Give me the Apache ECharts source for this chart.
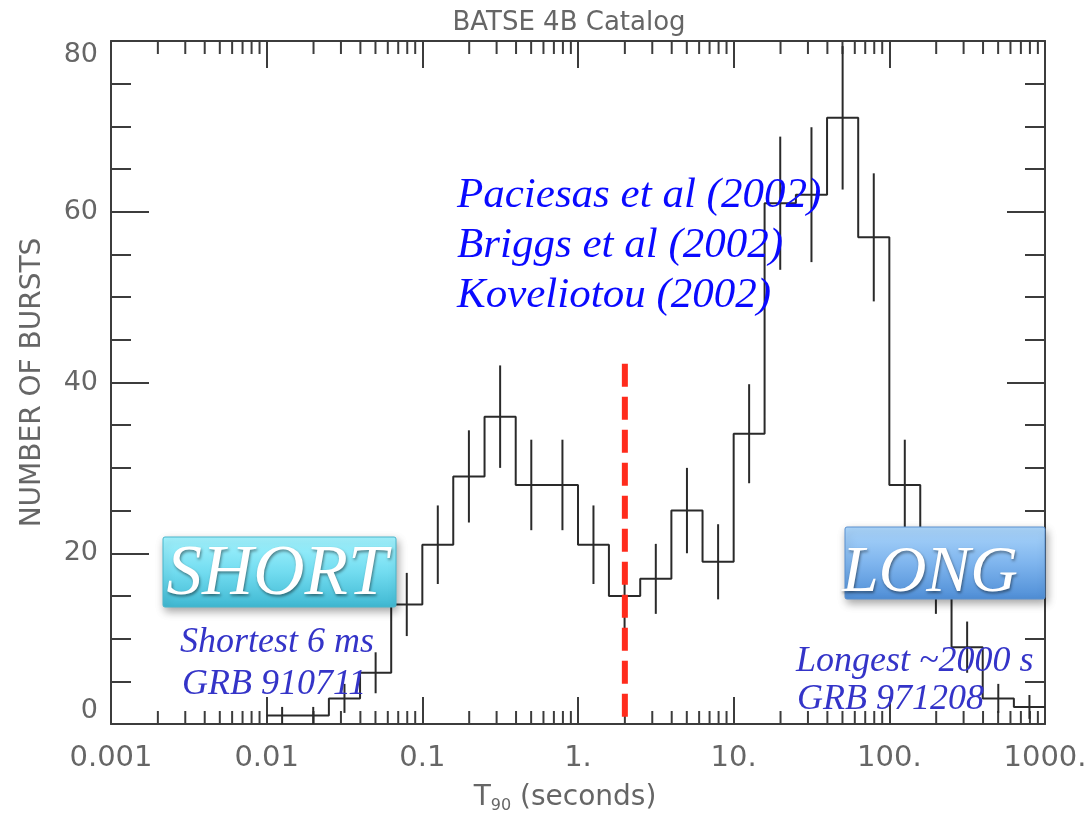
<!DOCTYPE html>
<html>
<head>
<meta charset="utf-8">
<script src="https://cdn.jsdelivr.net/npm/echarts@6/dist/echarts.min.js"></script>
<style>
html,body{margin:0;padding:0;background:#fff;}
#chart{width:1088px;height:814px;}
</style>
</head>
<body>
<div id="chart"></div>
<script>
// ---- data ----
const binEdges = [0.01, 0.0158, 0.0251, 0.0398, 0.0631, 0.1, 0.158, 0.251, 0.398, 0.631,
                  1, 1.58, 2.51, 3.98, 6.31, 10, 15.8, 25.1, 39.8, 63.1,
                  100, 158, 251, 398, 631, 1000];
const burstCounts = [1, 1, 3, 6, 14, 21, 29, 36, 28, 28, 21, 15, 17, 25, 19, 34, 61, 62, 71, 57, 28, 17, 9, 3, 2];
const countErrors = [1.0, 1.0, 1.7, 2.4, 3.7, 4.6, 5.4, 6.0, 5.3, 5.3, 4.6, 3.9, 4.1, 5.0, 4.4, 5.8, 7.8, 7.9, 8.4, 7.5, 5.3, 4.1, 3.0, 1.7, 1.4];
const xTickLabels = ['0.001', '0.01', '0.1', '1.', '10.', '100.', '1000.'];
const yTickLabels = ['0', '20', '40', '60', '80'];
const dividerT90 = 2;        // seconds
const dividerTop = 42.2;     // bursts
const minorMantissas = [2, 3, 4, 5, 6, 7, 8, 9];
const decades = [0.001, 0.01, 0.1, 1, 10, 100];

// ---- derived ----
const stepData = binEdges.slice(0, -1).map((e, i) => [e, burstCounts[i]]);
stepData.push([binEdges[binEdges.length - 1], burstCounts[burstCounts.length - 1]]);
const errData = burstCounts.map((v, i) => [Math.sqrt(binEdges[i] * binEdges[i + 1]), v, countErrors[i]]);
const minorTicks = [];
decades.forEach(d => minorMantissas.forEach(m => minorTicks.push([d * m])));

const axisColor = '#3c3c3c';
const labelColor = '#666';
const labelFont = '"DejaVu Sans", sans-serif';

function xLabel(v) {
  const k = Math.round(Math.log10(v)) + 3;
  return xTickLabels[k] !== undefined ? xTickLabels[k] : '';
}
function yLabel(v) {
  const k = Math.round(v / 20);
  return yTickLabels[k] !== undefined ? yTickLabels[k] : '';
}

const chart = echarts.init(document.getElementById('chart'), null, {renderer: 'canvas'});

const calli = '"Liberation Serif", "DejaVu Serif", serif';

const option = {
  animation: false,
  backgroundColor: '#fff',
  title: {
    text: 'BATSE 4B Catalog',
    left: 564, top: 5, textAlign: 'center',
    textStyle: {color: labelColor, fontFamily: labelFont, fontSize: 26, fontWeight: 'normal'}
  },
  grid: {left: 111, right: 43, top: 41, bottom: 90, containLabel: false, outerBoundsMode: 'none'},
  xAxis: [{
    type: 'log', logBase: 10, min: 0.001, max: 1000, splitNumber: 6,
    position: 'bottom',
    name: '{t|T}{s|90}{t| (seconds)}',
    nameLocation: 'middle', nameGap: 58,
    nameTextStyle: {
      padding: [0, 26, 0, 0],
      rich: {
        t: {fontSize: 28, color: labelColor, fontFamily: labelFont},
        s: {fontSize: 16, color: labelColor, fontFamily: labelFont, verticalAlign: 'bottom', padding: [16, 0, 0, 0]}
      }
    },
    axisLine: {show: true, onZero: false, lineStyle: {color: axisColor, width: 2}},
    axisTick: {show: true, inside: true, length: 27, lineStyle: {color: axisColor, width: 2}},
    minorTick: {show: false},
    splitLine: {show: false},
    axisLabel: {
      show: true, margin: 20, color: labelColor, fontFamily: labelFont, fontSize: 29,
      showMinLabel: true, showMaxLabel: true, formatter: xLabel
    }
  }, {
    type: 'log', logBase: 10, min: 0.001, max: 1000, splitNumber: 6,
    position: 'top',
    axisLine: {show: true, onZero: false, lineStyle: {color: axisColor, width: 2}},
    axisTick: {show: true, inside: true, length: 27, lineStyle: {color: axisColor, width: 2}},
    splitLine: {show: false},
    axisLabel: {show: false}
  }],
  yAxis: [{
    type: 'value', min: 0, max: 80, interval: 20, position: 'left',
    name: 'NUMBER OF BURSTS', nameLocation: 'middle', nameGap: 64,
    nameTextStyle: {color: labelColor, fontFamily: labelFont, fontSize: 28},
    axisLine: {show: true, onZero: false, lineStyle: {color: axisColor, width: 2}},
    axisTick: {show: true, inside: true, length: 38, lineStyle: {color: axisColor, width: 2}},
    minorTick: {show: true, splitNumber: 4, length: 20, lineStyle: {color: axisColor, width: 2}},
    splitLine: {show: false}, minorSplitLine: {show: false},
    axisLabel: {
      show: true, margin: 13, color: labelColor, fontFamily: labelFont, fontSize: 27,
      formatter: yLabel, verticalAlignMinLabel: 'bottom', verticalAlignMaxLabel: 'top'
    }
  }, {
    type: 'value', min: 0, max: 80, interval: 20, position: 'right',
    axisLine: {show: true, onZero: false, lineStyle: {color: axisColor, width: 2}},
    axisTick: {show: true, inside: true, length: 38, lineStyle: {color: axisColor, width: 2}},
    minorTick: {show: true, splitNumber: 4, length: 20, lineStyle: {color: axisColor, width: 2}},
    splitLine: {show: false}, minorSplitLine: {show: false},
    axisLabel: {show: false}
  }],
  series: [{
    name: 'minorTicks', type: 'custom', xAxisIndex: 0, yAxisIndex: 0,
    data: minorTicks, clip: false, silent: true, z: 3,
    renderItem: function (params, api) {
      const v = api.value(0);
      const b = api.coord([v, 0]);
      const t = api.coord([v, 80]);
      const s = {stroke: axisColor, lineWidth: 2};
      return {type: 'group', children: [
        {type: 'line', shape: {x1: b[0], y1: b[1], x2: b[0], y2: b[1] - 13}, style: s},
        {type: 'line', shape: {x1: t[0], y1: t[1], x2: t[0], y2: t[1] + 13}, style: s}
      ]};
    }
  }, {
    name: 'histogram', type: 'line', step: 'end', data: stepData,
    symbol: 'none', z: 4,
    lineStyle: {color: '#2a2a2a', width: 2}
  }, {
    name: 'errors', type: 'custom', data: errData, z: 4, silent: true,
    renderItem: function (params, api) {
      const x = api.value(0), v = api.value(1), e = api.value(2);
      const p1 = api.coord([x, v - e]);
      const p2 = api.coord([x, v + e]);
      return {type: 'line', shape: {x1: p1[0], y1: p1[1], x2: p2[0], y2: p2[1]},
              style: {stroke: '#2a2a2a', lineWidth: 2}};
    }
  }, {
    name: 'divider', type: 'line', data: [[dividerT90, dividerTop], [dividerT90, 0]],
    symbol: 'none', z: 6,
    lineStyle: {color: '#ff2b1c', width: 6, type: [23, 10]}
  }],
  graphic: [
    // references
    {type: 'text', z: 100, style: {text: 'Paciesas et al (2002)', x: 457, y: 196, font: 'italic 43px ' + calli, fill: '#0a0aff', verticalAlign: 'middle'}},
    {type: 'text', z: 100, style: {text: 'Briggs et al (2002)', x: 457, y: 246, font: 'italic 43px ' + calli, fill: '#0a0aff', verticalAlign: 'middle'}},
    {type: 'text', z: 100, style: {text: 'Koveliotou (2002)', x: 457, y: 296, font: 'italic 43px ' + calli, fill: '#0a0aff', verticalAlign: 'middle'}},
    // SHORT box
    {type: 'rect', z: 100, shape: {x: 163, y: 537, width: 233, height: 70, r: 2},
     style: {
       fill: new echarts.graphic.LinearGradient(0, 0, 0, 1, [
         {offset: 0, color: '#a4f4ff'}, {offset: 0.5, color: '#72dcf0'}, {offset: 1, color: '#3fb8d2'}]),
       stroke: '#49b6cc', lineWidth: 1,
       shadowBlur: 8, shadowColor: 'rgba(0,0,0,0.35)', shadowOffsetY: 4, shadowOffsetX: 2
     }},
    {type: 'text', z: 101, style: {text: 'SHORT', x: 277, y: 575, font: 'italic 71px ' + calli, fill: '#fff',
      align: 'center', verticalAlign: 'middle',
      textShadowColor: 'rgba(0,0,0,0.45)', textShadowBlur: 3, textShadowOffsetX: 1, textShadowOffsetY: 2}},
    // LONG box
    {type: 'rect', z: 100, shape: {x: 845, y: 527, width: 200, height: 72, r: 2},
     style: {
       fill: new echarts.graphic.LinearGradient(0, 0, 0, 1, [
         {offset: 0, color: '#acd6fb'}, {offset: 0.5, color: '#7fb5ee'}, {offset: 1, color: '#4f8ed6'}]),
       stroke: '#5a90cf', lineWidth: 1,
       shadowBlur: 8, shadowColor: 'rgba(0,0,0,0.35)', shadowOffsetY: 4, shadowOffsetX: 2
     }},
    {type: 'text', z: 101, style: {text: 'LONG', x: 930, y: 574, font: 'italic 66px ' + calli, fill: '#fff',
      align: 'center', verticalAlign: 'middle',
      textShadowColor: 'rgba(0,0,0,0.45)', textShadowBlur: 3, textShadowOffsetX: 1, textShadowOffsetY: 2}},
    // notes
    {type: 'text', z: 100, style: {text: 'Shortest 6 ms', x: 180, y: 643, font: 'italic 36px ' + calli, fill: '#3434c8', verticalAlign: 'middle'}},
    {type: 'text', z: 100, style: {text: 'GRB 910711', x: 182, y: 685, font: 'italic 36px ' + calli, fill: '#3434c8', verticalAlign: 'middle'}},
    {type: 'text', z: 100, style: {text: 'Longest ~2000 s', x: 796, y: 662, font: 'italic 36px ' + calli, fill: '#3434c8', verticalAlign: 'middle'}},
    {type: 'text', z: 100, style: {text: 'GRB 971208', x: 797, y: 700, font: 'italic 36px ' + calli, fill: '#3434c8', verticalAlign: 'middle'}}
  ]
};
chart.setOption(option);
</script>
</body>
</html>
